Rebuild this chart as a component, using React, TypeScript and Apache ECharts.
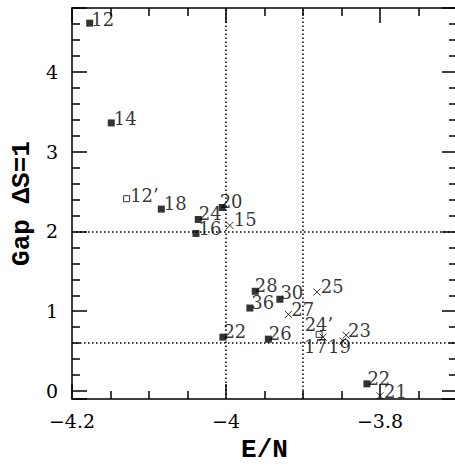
import React, { useEffect, useRef } from "react";
import * as echarts from "echarts";

// ---- data ----
const filledLabels = ["12", "14", "18", "20", "24", "16", "28", "30", "36", "22", "26", "22"];
const filledX = [-4.177, -4.149, -4.084, -4.005, -4.036, -4.039, -3.962, -3.93, -3.969, -4.004, -3.945, -3.817];
const filledY = [4.61, 3.36, 2.28, 2.3, 2.15, 1.975, 1.25, 1.15, 1.04, 0.675, 0.65, 0.09];

const openLabels = ["12\u2019", "24\u2019"];
const openX = [-4.129, -3.879];
const openY = [2.41, 0.71];

const crossLabels = ["15", "25", "27", "17", "19", "23", "21"];
const crossX = [-3.995, -3.882, -3.919, -3.874, -3.848, -3.844, -3.8];
const crossY = [2.075, 1.24, 0.96, 0.675, 0.625, 0.7, -0.06];

const refX = [-4, -3.9];
const refY = [2, 0.6];

const xRange = [-4.2, -3.7];
const yRange = [-0.1, 4.8];
const xTitle = "E/N";
const yTitle = "Gap \u0394S=1";

// ---- label placement (styles) ----
const filledOffsets = [[-2, -4], [-1, -4], [-1, -6], [-6, -6], [-3, -6], [-1, -5], [-4, -6], [-3, -7], [-2, -6], [-3, -6], [-3, -6], [-3, -5]];
const openOffsets = [[0, -3], [-18, -10]];
const crossOffsets = [[-2, -6], [-2, -6], [-3, -5], [-25, 9], [-21, 5], [-4, -5], [-2, -4]];

const W = 460;
const H = 468;
const SERIF = "DejaVu Serif";
const MONO = "Liberation Mono";

function fmtMinus(v: number) {
  return String(Number(v.toFixed(2))).replace("-", "\u2212");
}

function build(labels: string[], xs: number[], ys: number[], offs: number[][]) {
  return labels.map((name, i) => ({
    name,
    value: [xs[i], ys[i]],
    label: { offset: offs[i] },
  }));
}

const labelBase = {
  show: true,
  position: "right",
  distance: 0,
  formatter: "{b}",
  color: "#000",
  fontFamily: SERIF,
  fontSize: 18,
};

export default function App() {
  const ref = useRef<HTMLDivElement>(null);
  useEffect(() => {
    if (!ref.current) return;
    const chart = echarts.init(ref.current, null, { renderer: "svg" });
    const axisLine = { show: true, onZero: false, lineStyle: { color: "#000", width: 1.5 } };
    const tick = { show: true, inside: true, length: 15, lineStyle: { color: "#000", width: 1.5 } };
    const xMinor = { show: true, splitNumber: 4, length: 8, lineStyle: { color: "#000", width: 1.5 } };
    const yMinor = { show: true, splitNumber: 5, length: 8, lineStyle: { color: "#000", width: 1.5 } };
    const tickLabel = { color: "#000", fontFamily: SERIF, fontSize: 19 };
    chart.setOption({
      animation: false,
      backgroundColor: "#fff",
      grid: { left: 72, top: 8, right: W - 457, bottom: H - 400 },
      xAxis: [
        {
          type: "value",
          position: "bottom",
          min: xRange[0],
          max: xRange[1],
          interval: 0.2,
          axisLine,
          axisTick: tick,
          minorTick: xMinor,
          splitLine: { show: false },
          axisLabel: {
            ...tickLabel,
            margin: 12,
            showMaxLabel: false,
            formatter: (v: number) => (Math.abs(v / 0.2 - Math.round(v / 0.2)) < 1e-6 ? fmtMinus(v) : ""),
          },
          name: xTitle,
          nameLocation: "middle",
          nameGap: 38,
          nameTextStyle: { color: "#000", fontFamily: MONO, fontWeight: "bold", fontSize: 26 },
        },
        {
          type: "value",
          position: "top",
          min: xRange[0],
          max: xRange[1],
          interval: 0.2,
          axisLine,
          axisTick: tick,
          minorTick: xMinor,
          splitLine: { show: false },
          axisLabel: { show: false },
        },
      ],
      yAxis: [
        {
          type: "value",
          position: "left",
          min: yRange[0],
          max: yRange[1],
          splitNumber: 5,
          axisLine,
          axisTick: tick,
          minorTick: yMinor,
          splitLine: { show: false },
          axisLabel: {
            ...tickLabel,
            margin: 14,
            formatter: (v: number) => (Math.abs(v - Math.round(v)) < 1e-6 ? fmtMinus(v) : ""),
          },
          name: yTitle,
          nameLocation: "middle",
          nameGap: 36,
          nameTextStyle: { color: "#000", fontFamily: MONO, fontWeight: "bold", fontSize: 26 },
        },
        {
          type: "value",
          position: "right",
          min: yRange[0],
          max: yRange[1],
          splitNumber: 5,
          axisLine,
          axisTick: tick,
          minorTick: yMinor,
          splitLine: { show: false },
          axisLabel: { show: false },
        },
      ],
      series: [
        {
          type: "scatter",
          symbol: "rect",
          symbolSize: 7,
          itemStyle: { color: "#000" },
          label: labelBase,
          data: build(filledLabels, filledX, filledY, filledOffsets),
          markLine: {
            silent: true,
            symbol: ["none", "none"],
            label: { show: false },
            lineStyle: { color: "#000", width: 1.5, type: [1.5, 2.5] },
            data: [...refX.map((v) => ({ xAxis: v })), ...refY.map((v) => ({ yAxis: v }))],
          },
          z: 3,
        },
        {
          type: "scatter",
          symbol: "rect",
          symbolSize: 6,
          itemStyle: { color: "#fff", borderColor: "#000", borderWidth: 1 },
          label: labelBase,
          data: build(openLabels, openX, openY, openOffsets),
          z: 3,
        },
        {
          type: "scatter",
          symbol: "path://M0,0L10,10M10,0L0,10",
          symbolSize: 7,
          itemStyle: { color: "none", borderColor: "#000", borderWidth: 1 },
          label: labelBase,
          data: build(crossLabels, crossX, crossY, crossOffsets),
          z: 3,
        },
      ],
    });
    return () => chart.dispose();
  }, []);
  return <div ref={ref} style={{ position: "absolute", left: 0, top: 0, width: W, height: H }} />;
}
